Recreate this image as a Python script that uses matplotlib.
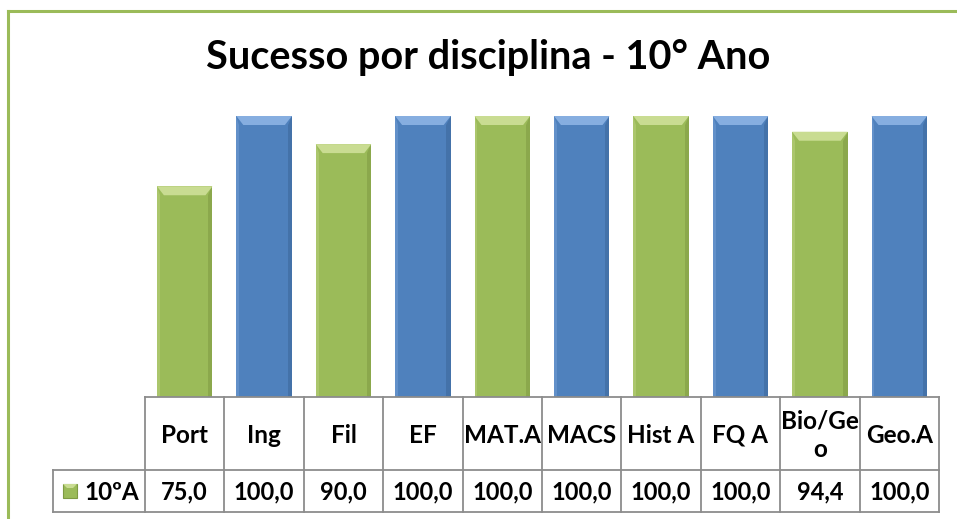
import matplotlib
matplotlib.use("Agg")
import matplotlib.pyplot as plt
from matplotlib.patches import Polygon, Rectangle
from matplotlib.lines import Line2D

# ---- data ----
categories = ["Port", "Ing", "Fil", "EF", "MAT.A", "MACS", "Hist A", "FQ A", "Bio/Geo", "Geo.A"]
category_labels = ["Port", "Ing", "Fil", "EF", "MAT.A", "MACS", "Hist A", "FQ A", "Bio/Ge\no", "Geo.A"]
values = [75.0, 100.0, 90.0, 100.0, 100.0, 100.0, 100.0, 100.0, 94.4, 100.0]
series_name = "10ºA"
title = "Sucesso por disciplina - 10° Ano"

GREEN = "#9BBB59"
GREEN_LIGHT = "#C9DC92"
GREEN_DARK = "#7E9A43"
BLUE = "#4F81BD"
BLUE_LIGHT = "#86AEE0"
BLUE_DARK = "#3B6699"
bar_colors = [GREEN if i % 2 == 0 else BLUE for i in range(len(values))]

W, H = 957, 519
FONT = ["Lato", "DejaVu Sans"]
fig = plt.figure(figsize=(W / 100, H / 100), dpi=100)

# pixel layout
ax_left, ax_right, ax_bottom, ax_top = 145, 939, 397, 116
ax = fig.add_axes([ax_left / W, 1 - ax_bottom / H, (ax_right - ax_left) / W, (ax_bottom - ax_top) / H])
ax.set_xlim(-0.5, len(values) - 0.5)
ax.set_ylim(0, 100)
ax.axis("off")

bar_w = 0.7
bars = ax.bar(range(len(values)), values, width=bar_w, color=bar_colors, edgecolor="none", zorder=2)

# bevel effect derived from each bar's geometry
px_x = (ax_right - ax_left) / len(values)      # pixels per x unit
px_y = (ax_bottom - ax_top) / 100.0            # pixels per y unit
dx = 7 / px_x
dy = 9 / px_y
for b, c in zip(bars, bar_colors):
    x0 = b.get_x(); x1 = x0 + b.get_width(); top = b.get_height()
    light = GREEN_LIGHT if c == GREEN else BLUE_LIGHT
    dark = GREEN_DARK if c == GREEN else BLUE_DARK
    ax.add_patch(Polygon([[x1, top], [x1, 0], [x1 - dx * 0.6, 0], [x1 - dx * 0.6, top - dy]],
                         closed=True, facecolor=dark, edgecolor="none", alpha=0.55, zorder=3))
    ax.add_patch(Polygon([[x0, top], [x0, 0], [x0 + dx * 0.4, 0], [x0 + dx * 0.4, top - dy]],
                         closed=True, facecolor=light, edgecolor="none", alpha=0.35, zorder=3))
    ax.add_patch(Polygon([[x0, top], [x1, top], [x1 - dx, top - dy], [x0 + dx, top - dy]],
                         closed=True, facecolor=light, edgecolor="none", zorder=4))

# ---- overlay in pixel coordinates for frame, title and data table ----
ov = fig.add_axes([0, 0, 1, 1], facecolor="none")
ov.set_xlim(0, W)
ov.set_ylim(H, 0)
ov.axis("off")

# chart frame (light green), only top and left edges visible
ov.add_line(Line2D([8, W + 5], [11, 11], color="#9BBB59", lw=2.2))
ov.add_line(Line2D([8, 8], [11, H + 5], color="#9BBB59", lw=2.2))

ov.text(488, 58, title, ha="center", va="center", fontsize=28.5, fontweight="bold",
        family=FONT, color="black")

# table
tbl_left, row_top, row_mid, row_bot = 53, 397, 470, 512
col_edges = [ax_left + i * px_x for i in range(len(values) + 1)]
gray = "#8C8C8C"
lw = 1.3
ov.add_line(Line2D([ax_left, ax_right], [row_top, row_top], color=gray, lw=lw))
ov.add_line(Line2D([tbl_left, ax_right], [row_mid, row_mid], color=gray, lw=lw))
ov.add_line(Line2D([tbl_left, ax_right], [row_bot, row_bot], color=gray, lw=lw))
ov.add_line(Line2D([tbl_left, tbl_left], [row_mid, row_bot], color=gray, lw=lw))
for xe in col_edges:
    ov.add_line(Line2D([xe, xe], [row_top, row_bot], color=gray, lw=lw))

for i, (lab, v) in enumerate(zip(category_labels, values)):
    cx = (col_edges[i] + col_edges[i + 1]) / 2
    ov.text(cx, (row_top + row_mid) / 2 + 2, lab, ha="center", va="center", fontsize=17.5,
            fontweight="bold", family=FONT, linespacing=1.3)
    ov.text(cx, (row_mid + row_bot) / 2 + 1, f"{v:.1f}".replace(".", ","), ha="center", va="center",
            fontsize=17, fontweight="bold", family=FONT)

# legend key + series name
ov.add_patch(Rectangle((63, 484), 14, 14, facecolor=GREEN, edgecolor=GREEN_DARK, linewidth=0.8))
ov.add_patch(Polygon([[63, 484], [77, 484], [73, 488], [67, 488]], closed=True, facecolor=GREEN_LIGHT, edgecolor="none"))
ov.text(84, (row_mid + row_bot) / 2 + 1, series_name, ha="left", va="center", fontsize=17.5,
        fontweight="bold", family=FONT)

fig.savefig("out.png", dpi=100)
